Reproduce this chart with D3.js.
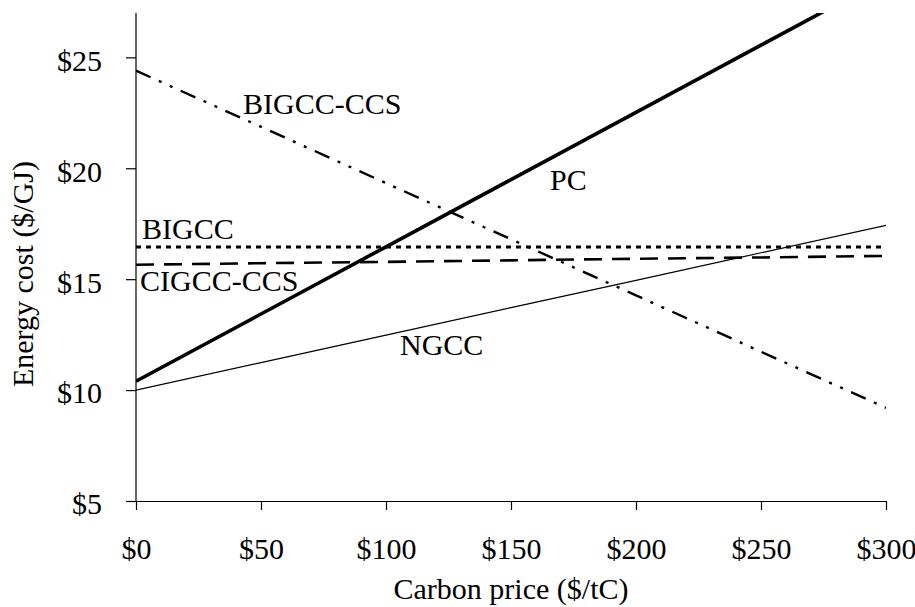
<!DOCTYPE html>
<html>
<head>
<meta charset="utf-8">
<script src="https://cdn.jsdelivr.net/npm/d3@7"></script>
<style>
  html, body { margin: 0; padding: 0; background: #fff; }
  svg { display: block; }
  text { font-family: "Liberation Serif", "Times New Roman", serif; fill: #000; }
</style>
</head>
<body>
<svg id="chart" width="915" height="607"></svg>
<script>
// ---- data ----
const carbonPrice = [0, 50, 100, 150, 200, 250, 300];
const pcCost      = [10.4, 13.43, 16.46, 19.49, 22.52, 25.55, 28.58];
const ngccCost    = [10.0, 11.24, 12.48, 13.72, 14.95, 16.19, 17.43];
const bigccCost   = [16.45, 16.45, 16.45, 16.45, 16.45, 16.45, 16.45];
const cigccCcsCost = [15.65, 15.72, 15.78, 15.85, 15.92, 15.98, 16.05];
const bigccCcsCost = [24.4, 21.87, 19.33, 16.8, 14.27, 11.73, 9.2];
const xTicks = [0, 50, 100, 150, 200, 250, 300];
const yTicks = [5, 10, 15, 20, 25];
const seriesNames = ["PC", "NGCC", "BIGCC", "CIGCC-CCS", "BIGCC-CCS"];

// ---- layout ----
const svg = d3.select("#chart");
const x = d3.scaleLinear().domain([0, 300]).range([136, 886]);
const y = d3.scaleLinear().domain([5, 27]).range([501, 13]);
const FS = 30;

svg.append("defs").append("clipPath").attr("id", "plotClip")
  .append("rect").attr("x", x(0)).attr("y", y(27)).attr("width", x(300) - x(0)).attr("height", y(5) - y(27));

// axes
const xAxis = svg.append("g").attr("transform", `translate(0,${y(5)})`)
  .call(d3.axisBottom(x).tickValues(xTicks).tickSize(9).tickSizeOuter(0).tickPadding(28).tickFormat(d => "$" + d));
const yAxis = svg.append("g").attr("transform", `translate(${x(0)},0)`)
  .call(d3.axisLeft(y).tickValues(yTicks).tickSize(10).tickSizeOuter(0).tickPadding(24).tickFormat(d => "$" + d));
[xAxis, yAxis].forEach(g => {
  g.select(".domain").attr("stroke", "#000").attr("stroke-width", 1.2);
  g.selectAll(".tick line").attr("stroke", "#000").attr("stroke-width", 1.2);
  g.selectAll("text").style("font-family", '"Liberation Serif", serif').style("font-size", FS + "px").attr("fill", "#000");
});
yAxis.select(".domain").attr("d", `M0,${y(5)}V${y(27)}`);
xAxis.selectAll(".tick text").attr("dy", "0.71em");
yAxis.selectAll(".tick text").attr("dy", "0.43em");

// lines
const series = [
  { name: "PC", values: pcCost, width: 3.6, dash: null },
  { name: "NGCC", values: ngccCost, width: 1.2, dash: null },
  { name: "BIGCC", values: bigccCost, width: 3, dash: "5,5" },
  { name: "CIGCC-CCS", values: cigccCcsCost, width: 2.6, dash: "18,10" },
  { name: "BIGCC-CCS", values: bigccCcsCost, width: 2.4, dash: "16,9,3,9,3,9" }
];
const line = d3.line().x(d => x(d[0])).y(d => y(d[1]));
const plot = svg.append("g").attr("clip-path", "url(#plotClip)");
series.forEach(s => {
  plot.append("path")
    .datum(carbonPrice.map((c, i) => [c, s.values[i]]))
    .attr("d", line)
    .attr("fill", "none")
    .attr("stroke", "#000")
    .attr("stroke-width", s.width)
    .attr("stroke-dasharray", s.dash);
});

// series labels
const labels = [
  { text: seriesNames[4], x: 243, y: 114 },
  { text: seriesNames[0], x: 550, y: 190 },
  { text: seriesNames[2], x: 142, y: 239 },
  { text: seriesNames[3], x: 140, y: 291 },
  { text: seriesNames[1], x: 400, y: 355 }
];
svg.append("g").selectAll("text").data(labels).join("text")
  .attr("x", d => d.x).attr("y", d => d.y)
  .style("font-size", FS + "px")
  .text(d => d.text);

// axis titles
svg.append("text")
  .attr("x", (x(0) + x(300)) / 2).attr("y", 599)
  .attr("text-anchor", "middle")
  .style("font-size", FS + "px")
  .text("Carbon price ($/tC)");
svg.append("text")
  .attr("transform", `translate(33,274) rotate(-90)`)
  .attr("text-anchor", "middle")
  .style("font-size", FS + "px")
  .text("Energy cost ($/GJ)");
</script>
</body>
</html>
